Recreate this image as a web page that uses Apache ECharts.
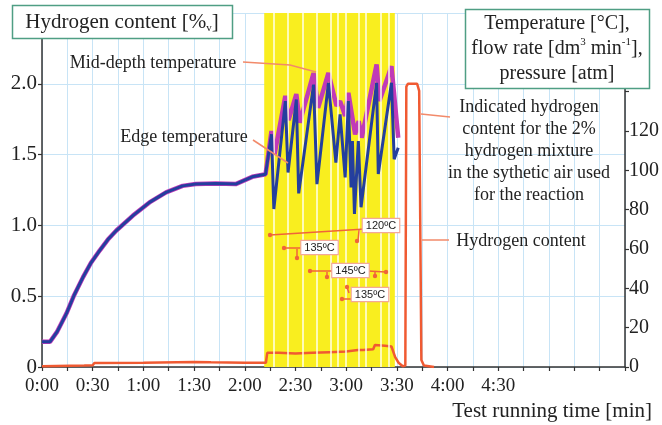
<!DOCTYPE html>
<html><head><meta charset="utf-8">
<script src="https://cdn.jsdelivr.net/npm/echarts@6/dist/echarts.min.js"></script>
<style>html,body{margin:0;padding:0;background:#fff}#c{width:662px;height:425px}</style>
</head><body><div id="c"></div>
<script>
// ---- data (time in minutes) ----
const preTime = [0, 4.7, 9, 14.5, 19, 24.3, 29, 34.1, 39, 44, 53.8, 63.6, 73.4, 83.2, 91, 102.8, 114.6, 124.4, 132.3];
const preTemp = [12.8, 12.8, 18, 27.3, 36.5, 45.7, 53, 59.2, 64.8, 69.4, 77, 83.7, 88.8, 92.1, 93, 93.3, 93, 96.7, 98];
const edgeTime = [133.2, 135.8, 137.2, 144.0, 145.6, 150.5, 151.9, 160.7, 162.7, 169.5, 173.9, 176.4, 179.4, 181.3, 182.9, 183.7, 184.9, 187.2, 188.8, 198.0, 199.0, 206.8, 208.4, 210.8];
const edgeTemp = [99, 118.3, 80.3, 135.2, 98.9, 136.0, 88.3, 143.6, 93.0, 144.5, 103.9, 128.4, 96.4, 135.2, 91.3, 114.9, 77.8, 114.9, 81.2, 144.5, 98.1, 144.5, 105.7, 111.5];
const midTime = [133.2, 135.8, 137.6, 144.0, 145.9, 150.5, 152.5, 160.7, 163.4, 169.5, 174.3, 176.4, 179.4, 181.3, 185.3, 187.4, 189.2, 198.0, 199.7, 206.8, 210.8];
const midTemp = [99, 120, 108, 137.9, 125.5, 138.8, 124.2, 149.5, 131.8, 149.5, 132.7, 135.2, 127.6, 139.4, 118.3, 125, 116.6, 153.8, 135.2, 152.9, 116.6];
const h2Time = [0, 25, 30, 31, 60, 90, 100, 120, 132.5, 133.3, 140, 150, 160, 170, 180, 187, 190, 196, 197, 203, 206.8, 209, 211, 213.5, 215, 215.6, 216.5, 222, 223.2, 224.5, 226, 232];
const h2Val = [0.005, 0.01, 0.012, 0.028, 0.03, 0.035, 0.033, 0.03, 0.03, 0.1, 0.1, 0.095, 0.1, 0.105, 0.11, 0.12, 0.12, 0.125, 0.155, 0.15, 0.145, 0.07, 0.03, 0.005, 0.01, 1.98, 2.0, 2.0, 1.95, 0.05, 0.01, 0.0];
const bandRange = [131.5, 208.8];
const stripeTimes = [137.2, 145.4, 154.2, 162.5, 170.7, 174.8, 179.6, 187.2, 191.3, 200.2, 204.9];
const xLabelMax = 270;   // last shown tick label (4:30)
const rightLabelMax = 120;

function zip(a, b) { return a.map((v, i) => [v, b[i]]); }
const edgeData = zip(preTime, preTemp).concat(zip(edgeTime, edgeTemp));
const midData = zip(preTime, preTemp).concat(zip(midTime, midTemp));
const h2Data = zip(h2Time, h2Val);

const SERIF = 'Liberation Serif';
const GRID = '#c8e4f6';
const ORANGE = '#f0643a';
const LEAD = '#f28a6a';

const chart = echarts.init(document.getElementById('c'), null, {renderer: 'canvas'});

function fmtTime(v) {
  if (v % 30 !== 0 || v > xLabelMax) return '';
  const h = Math.floor(v / 60), m = v % 60;
  return h + ':' + (m < 10 ? '0' + m : m);
}

const annoLines = [
  [[270,235],[365,229]], [[359,230],[358,241]],
  [[284,248],[302,248]], [[297,249],[297,258]],
  [[310,271],[333,271]], [[368,271],[386,272]], [[327,272],[327,277]], [[375,272],[375,276]],
  [[347,287],[349,293]], [[342,299],[353,299]]
];
const annoDots = [[270,235],[357,241],[284,248],[297,258],[310,271],[327,277],[386,272],[375,276],[347,287],[342,299]];
const tempBoxes = [['120ºC',381,225.5],['135ºC',319.5,247.5],['145ºC',350.5,270.5],['135ºC',370,294.5]];

const graphics = [];
annoLines.forEach(p => graphics.push({type:'polyline', z:50, shape:{points:p}, style:{stroke:ORANGE, lineWidth:1.5, fill:null}}));
annoDots.forEach(p => graphics.push({type:'circle', z:51, shape:{cx:p[0], cy:p[1], r:2.2}, style:{fill:ORANGE}}));
tempBoxes.forEach(b => graphics.push({type:'text', z:60, x:b[1], y:b[2], style:{
  text:b[0], fontFamily:'Liberation Sans', fontSize:11, fill:'#222', align:'center', verticalAlign:'middle',
  backgroundColor:'#fff', borderColor:'#f4a898', borderWidth:1.2, padding:[1,3,1,3]}}));

// leader lines
graphics.push({type:'polyline', z:50, shape:{points:[[243,62],[290,65],[316,72]]}, style:{stroke:LEAD, lineWidth:1.5, fill:null}});
graphics.push({type:'polyline', z:50, shape:{points:[[253,140],[288,163]]}, style:{stroke:LEAD, lineWidth:1.5, fill:null}});
graphics.push({type:'polyline', z:50, shape:{points:[[421,114],[450,117]]}, style:{stroke:LEAD, lineWidth:1.5, fill:null}});
graphics.push({type:'polyline', z:50, shape:{points:[[422,240],[449,240]]}, style:{stroke:LEAD, lineWidth:1.5, fill:null}});

// text annotations
graphics.push({type:'text', z:60, x:153, y:63, style:{text:'Mid-depth temperature', fontFamily:SERIF, fontSize:18, fill:'#222', align:'center', verticalAlign:'middle'}});
graphics.push({type:'text', z:60, x:184, y:137, style:{text:'Edge temperature', fontFamily:SERIF, fontSize:18, fill:'#222', align:'center', verticalAlign:'middle'}});
graphics.push({type:'text', z:60, x:529, y:151, style:{text:'Indicated hydrogen\ncontent for the 2%\nhydrogen mixture\nin the sythetic air used\nfor the reaction', fontFamily:SERIF, fontSize:18, lineHeight:22, fill:'#222', align:'center', verticalAlign:'middle'}});
graphics.push({type:'text', z:60, x:521, y:241, style:{text:'Hydrogen content', fontFamily:SERIF, fontSize:18, fill:'#222', align:'center', verticalAlign:'middle'}});

// title boxes
graphics.push({type:'rect', z:90, shape:{x:12.5, y:5.5, width:220, height:33}, style:{fill:'#fff', stroke:'#4f9e84', lineWidth:1.5}});
graphics.push({type:'text', z:91, x:122, y:22, style:{
  text:'{a|Hydrogen content [%}{s|v}{a|]}', align:'center', verticalAlign:'middle',
  rich:{a:{fontFamily:SERIF, fontSize:21, fill:'#222', lineHeight:24}, s:{fontFamily:SERIF, fontSize:11, fill:'#222', lineHeight:24, verticalAlign:'bottom'}}}});
graphics.push({type:'rect', z:90, shape:{x:465.5, y:9.5, width:184, height:79}, style:{fill:'#fff', stroke:'#4f9e84', lineWidth:1.5}});
graphics.push({type:'text', z:91, x:557, y:49, style:{
  text:'{a|Temperature [°C],}\n{a|flow rate [dm}{p|3}{a| min}{p|-1}{a|],}\n{a|pressure [atm]}', align:'center', verticalAlign:'middle',
  rich:{a:{fontFamily:SERIF, fontSize:20, fill:'#222', lineHeight:25}, p:{fontFamily:SERIF, fontSize:11, fill:'#222', lineHeight:25, verticalAlign:'top'}}}});

// axis title
graphics.push({type:'text', z:60, x:652, y:411, style:{text:'Test running time [min]', fontFamily:SERIF, fontSize:21, fill:'#222', align:'right', verticalAlign:'middle'}});

const option = {
  backgroundColor: '#fff',
  animation: false,
  grid: {left: 42, right: 34, top: 13, bottom: 58, containLabel: false},
  xAxis: {
    type: 'value', min: 0, max: 345, interval: 15,
    axisLine: {lineStyle: {color: '#333', width: 1.5}},
    axisTick: {show: true, inside: false, length: 4, lineStyle: {color: '#333', width: 1.2}},
    axisLabel: {formatter: fmtTime, fontFamily: SERIF, fontSize: 19, color: '#222', margin: 10, hideOverlap: false, showMinLabel: true, showMaxLabel: true},
    splitLine: {show: true, lineStyle: {color: GRID, width: 1}}
  },
  yAxis: [{
    type: 'value', min: 0, max: 2.5, interval: 0.5, position: 'left',
    axisLine: {show: true, lineStyle: {color: '#333', width: 1.5}},
    axisTick: {show: true, length: 4, lineStyle: {color: '#333', width: 1.2}},
    axisLabel: {formatter: v => v === 0 ? '0' : (v > 2.01 ? '' : v.toFixed(1)), fontFamily: SERIF, fontSize: 21, color: '#222', margin: 5},
    splitLine: {show: true, lineStyle: {color: GRID, width: 1}}
  }, {
    type: 'value', min: 0, max: 180, interval: 20, position: 'right',
    axisLine: {show: true, lineStyle: {color: '#333', width: 1.5}},
    axisTick: {show: true, length: 4, lineStyle: {color: '#333', width: 1.2}},
    axisLabel: {formatter: v => v > rightLabelMax ? '' : String(v), fontFamily: SERIF, fontSize: 20, color: '#222', margin: 4},
    splitLine: {show: false}
  }],
  series: [
    {
      type: 'line', name: 'band', data: [], z: 1, silent: true,
      markArea: {silent: true, itemStyle: {color: '#f9ee1f'}, data: [[{xAxis: bandRange[0]}, {xAxis: bandRange[1]}]]},
      markLine: {silent: true, symbol: 'none', label: {show: false},
        lineStyle: {color: 'rgba(255,255,235,0.75)', width: 2, type: 'solid'},
        data: stripeTimes.map(t => ({xAxis: t}))}
    },
    {type: 'line', name: 'Hydrogen content', data: h2Data, yAxisIndex: 0, showSymbol: false, z: 3,
      lineStyle: {color: '#f05a32', width: 2.5}},
    {type: 'line', name: 'Mid-depth temperature', data: midData, yAxisIndex: 1, showSymbol: false, z: 4,
      lineStyle: {color: '#c03ab8', width: 4.5}},
    {type: 'line', name: 'Edge temperature', data: edgeData, yAxisIndex: 1, showSymbol: false, z: 5,
      lineStyle: {color: '#243f9e', width: 3}}
  ],
  graphic: graphics
};
chart.setOption(option);
</script></body></html>
